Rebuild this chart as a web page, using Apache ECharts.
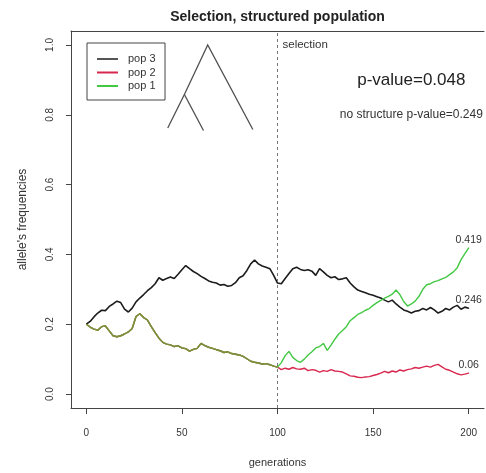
<!DOCTYPE html>
<html>
<head>
<meta charset="utf-8">
<script src="https://cdn.jsdelivr.net/npm/echarts@6/dist/echarts.min.js"></script>
<style>
  html, body { margin: 0; padding: 0; background: #fff; }
  #chart { width: 486px; height: 473px; }
</style>
</head>
<body>
<div id="chart"></div>
<script>
// Generations sampled every second step
const generations = [
  0, 2, 4, 6, 8, 10, 12, 14, 16, 18,
  20, 22, 24, 26, 28, 30, 32, 34, 36, 38,
  40, 42, 44, 46, 48, 50, 52, 54, 56, 58,
  60, 62, 64, 66, 68, 70, 72, 74, 76, 78,
  80, 82, 84, 86, 88, 90, 92, 94, 96, 98,
  100, 102, 104, 106, 108, 110, 112, 114, 116, 118,
  120, 122, 124, 126, 128, 130, 132, 134, 136, 138,
  140, 142, 144, 146, 148, 150, 152, 154, 156, 158,
  160, 162, 164, 166, 168, 170, 172, 174, 176, 178,
  180, 182, 184, 186, 188, 190, 192, 194, 196, 198,
  200
];

// pop 3 allele frequency, generations 0..200
const pop3 = [
  0.200, 0.208, 0.221, 0.232, 0.240, 0.239, 0.251, 0.258, 0.266, 0.262,
  0.243, 0.235, 0.246, 0.264, 0.275, 0.285, 0.296, 0.305, 0.316, 0.333,
  0.326, 0.331, 0.335, 0.331, 0.343, 0.356, 0.368, 0.359, 0.351, 0.345,
  0.337, 0.331, 0.324, 0.320, 0.318, 0.312, 0.314, 0.309, 0.311, 0.319,
  0.333, 0.339, 0.354, 0.373, 0.384, 0.373, 0.367, 0.363, 0.359, 0.340,
  0.318, 0.316, 0.331, 0.345, 0.359, 0.363, 0.357, 0.354, 0.356, 0.352,
  0.340, 0.359, 0.350, 0.340, 0.333, 0.336, 0.328, 0.330, 0.333, 0.318,
  0.307, 0.298, 0.294, 0.290, 0.286, 0.283, 0.279, 0.275, 0.269, 0.264,
  0.269, 0.258, 0.249, 0.241, 0.237, 0.232, 0.237, 0.239, 0.245, 0.241,
  0.248, 0.241, 0.232, 0.237, 0.245, 0.241, 0.249, 0.254, 0.243, 0.249,
  0.246
];

// pop 1 and pop 2 share one trajectory until selection starts (generations 0..100)
const sharedBeforeSelection = [
  0.200, 0.192, 0.186, 0.183, 0.193, 0.195, 0.181, 0.167, 0.164, 0.167,
  0.172, 0.178, 0.188, 0.222, 0.230, 0.219, 0.212, 0.193, 0.176, 0.160,
  0.148, 0.143, 0.141, 0.136, 0.138, 0.132, 0.130, 0.123, 0.128, 0.131,
  0.145, 0.139, 0.134, 0.131, 0.127, 0.124, 0.119, 0.121, 0.116, 0.114,
  0.112, 0.108, 0.101, 0.094, 0.091, 0.089, 0.086, 0.087, 0.084, 0.080,
  0.077
];

// generations 102..200
const pop2AfterSelection = [
  0.070, 0.074, 0.071, 0.076, 0.072, 0.071, 0.074, 0.067, 0.070, 0.068,
  0.063, 0.067, 0.065, 0.070, 0.066, 0.065, 0.063, 0.058, 0.052, 0.051,
  0.048, 0.047, 0.049, 0.050, 0.053, 0.056, 0.060, 0.065, 0.061, 0.066,
  0.063, 0.069, 0.066, 0.070, 0.072, 0.076, 0.074, 0.077, 0.080, 0.077,
  0.082, 0.085, 0.078, 0.071, 0.068, 0.063, 0.058, 0.055, 0.057, 0.060
];

const pop1AfterSelection = [
  0.090, 0.110, 0.122, 0.105, 0.096, 0.091, 0.100, 0.112, 0.121, 0.132,
  0.136, 0.145, 0.125, 0.140, 0.157, 0.172, 0.182, 0.193, 0.210, 0.219,
  0.228, 0.233, 0.240, 0.245, 0.254, 0.262, 0.268, 0.275, 0.280, 0.286,
  0.298, 0.285, 0.265, 0.252, 0.258, 0.266, 0.280, 0.300, 0.313, 0.316,
  0.322, 0.325, 0.330, 0.334, 0.342, 0.350, 0.362, 0.385, 0.402, 0.419
];

const xTicks = [0, 50, 100, 150, 200];
const yTicks = [0, 0.2, 0.4, 0.6, 0.8, 1.0];
const selectionGeneration = 100;

// population tree sketch: ((pop 1, pop 2), pop 3)
const treeTrunk = [[42.6, 0.762], [51.3, 0.858], [63.5, 1.0], [87.1, 0.758]];
const treeBranch = [[51.3, 0.858], [61.3, 0.755]];

const pValueText = 'p-value=0.048';
const noStructureText = 'no structure p-value=0.249';

const FONT = '"Liberation Sans", Arial, Helvetica, sans-serif';
const COLORS = { pop3: '#1c1c1c', pop2: '#d8284f', pop1: '#43c843', shared: '#858a3c' };

const pop2 = sharedBeforeSelection.concat(pop2AfterSelection);
const pop1 = sharedBeforeSelection.concat(pop1AfterSelection);

function fmt(v) { return String(Number(v.toFixed(3))); }

// Each point is a [generation, frequency] pair; the last one carries the final value as text
function toData(values, withEndLabel, color) {
  return values.map(function (v, i) {
    const item = { value: [generations[i], v] };
    if (withEndLabel && i === values.length - 1) {
      item.symbol = 'circle';
      item.symbolSize = 1;
      item.itemStyle = { color: color };
      item.label = {
        show: true, position: 'top', distance: 2,
        formatter: fmt(v), fontSize: 10.5, color: '#333', fontFamily: FONT
      };
    }
    return item;
  });
}

const chart = echarts.init(document.getElementById('chart'), null, { renderer: 'canvas' });

const axisColor = '#444';

const option = {
  animation: false,
  backgroundColor: '#fff',
  textStyle: { fontFamily: FONT },
  title: {
    text: 'Selection, structured population',
    left: 277.5, top: 10, padding: 0, textAlign: 'center',
    textStyle: { fontSize: 14, fontWeight: 'bold', color: '#222', fontFamily: FONT }
  },
  grid: { left: 71, right: 2, top: 31, bottom: 60 },
  legend: {
    orient: 'vertical', left: 87, top: 43,
    padding: [9.5, 9.5, 7.5, 10],
    itemGap: 0.5, itemWidth: 21, itemHeight: 2, icon: 'rect',
    borderColor: '#444', borderWidth: 1, borderRadius: 0,
    selectedMode: false,
    textStyle: { fontSize: 11, color: '#333', lineHeight: 13, padding: [0, 0, 0, 5], fontFamily: FONT },
    data: [
      { name: 'pop 3', itemStyle: { color: '#555' } },
      { name: 'pop 2', itemStyle: { color: COLORS.pop2 } },
      { name: 'pop 1', itemStyle: { color: COLORS.pop1 } }
    ]
  },
  xAxis: [
    {
      type: 'value', min: -8, max: 208, position: 'bottom',
      axisLine: { show: true, onZero: false, lineStyle: { color: axisColor, width: 1 } },
      axisTick: { show: true, customValues: xTicks, length: 6, lineStyle: { color: axisColor } },
      axisLabel: { customValues: xTicks, margin: 20, fontSize: 10, color: '#333', fontFamily: FONT },
      splitLine: { show: false },
      name: 'generations', nameLocation: 'middle', nameGap: 49,
      nameTextStyle: { fontSize: 11, color: '#333', fontFamily: FONT }
    },
    {
      type: 'value', min: -8, max: 208, position: 'top',
      axisLine: { show: true, onZero: false, lineStyle: { color: axisColor, width: 1 } },
      axisTick: { show: false }, axisLabel: { show: false }, splitLine: { show: false }
    }
  ],
  yAxis: {
    type: 'value', min: -0.04, max: 1.04,
    axisLine: { show: true, onZero: false, lineStyle: { color: axisColor, width: 1 } },
    axisTick: { show: true, customValues: yTicks, length: 5, lineStyle: { color: axisColor } },
    axisLabel: {
      customValues: yTicks, rotate: 90, margin: 16, fontSize: 10, color: '#333', fontFamily: FONT,
      formatter: function (v) { return v.toFixed(1); }
    },
    splitLine: { show: false },
    name: "allele's frequencies", nameLocation: 'middle', nameGap: 42,
    nameTextStyle: { fontSize: 12, color: '#333', fontFamily: FONT }
  },
  series: [
    {
      name: 'tree', type: 'lines', coordinateSystem: 'cartesian2d', polyline: true,
      silent: true,
      lineStyle: { color: '#505050', width: 1.3, opacity: 1 },
      data: [{ coords: treeTrunk }, { coords: treeBranch }],
      z: 2
    },
    {
      name: 'pop 3', type: 'line', symbol: 'none',
      data: toData(pop3, true, COLORS.pop3),
      lineStyle: { color: COLORS.pop3, width: 1.6 },
      itemStyle: { color: COLORS.pop3 },
      markLine: {
        silent: true, symbol: ['none', 'none'], animation: false,
        label: { show: false },
        lineStyle: { color: '#777', type: [3, 3], width: 1 },
        data: [{ xAxis: selectionGeneration }]
      },
      z: 3
    },
    {
      name: 'pop 2', type: 'line', symbol: 'none',
      data: toData(pop2, true, COLORS.pop2),
      lineStyle: { color: COLORS.pop2, width: 1.4 },
      itemStyle: { color: COLORS.pop2 },
      z: 4
    },
    {
      name: 'pop 1', type: 'line', symbol: 'none',
      data: toData(pop1, true, COLORS.pop1),
      lineStyle: { color: COLORS.pop1, width: 1.4 },
      itemStyle: { color: COLORS.pop1 },
      z: 5
    },
    {
      // where pop 1 and pop 2 coincide the two colours blend
      name: 'pop 1 + pop 2', type: 'line', symbol: 'none', silent: true,
      data: toData(sharedBeforeSelection, false),
      lineStyle: { color: COLORS.shared, width: 1.4 },
      itemStyle: { color: COLORS.shared },
      z: 6
    }
  ]
};

chart.setOption(option);

// Annotations anchored in data space
const at = function (x, y) { return chart.convertToPixel({ xAxisIndex: 0, yAxisIndex: 0 }, [x, y]); };
const pSel = at(selectionGeneration, 1.0);
const pP = at(170, 0.9);
const pNS = at(170, 0.8);

chart.setOption({
  graphic: [
    {
      type: 'text', x: pSel[0] + 5, y: pSel[1],
      style: { text: 'selection', fontSize: 11.5, fill: '#333', fontFamily: FONT, textAlign: 'left', textVerticalAlign: 'middle' }
    },
    {
      type: 'text', x: pP[0], y: pP[1],
      style: { text: pValueText, fontSize: 17, fill: '#222', fontFamily: FONT, textAlign: 'center', textVerticalAlign: 'middle' }
    },
    {
      type: 'text', x: pNS[0], y: pNS[1],
      style: { text: noStructureText, fontSize: 12, fill: '#333', fontFamily: FONT, textAlign: 'center', textVerticalAlign: 'middle' }
    }
  ]
});
</script>
</body>
</html>
